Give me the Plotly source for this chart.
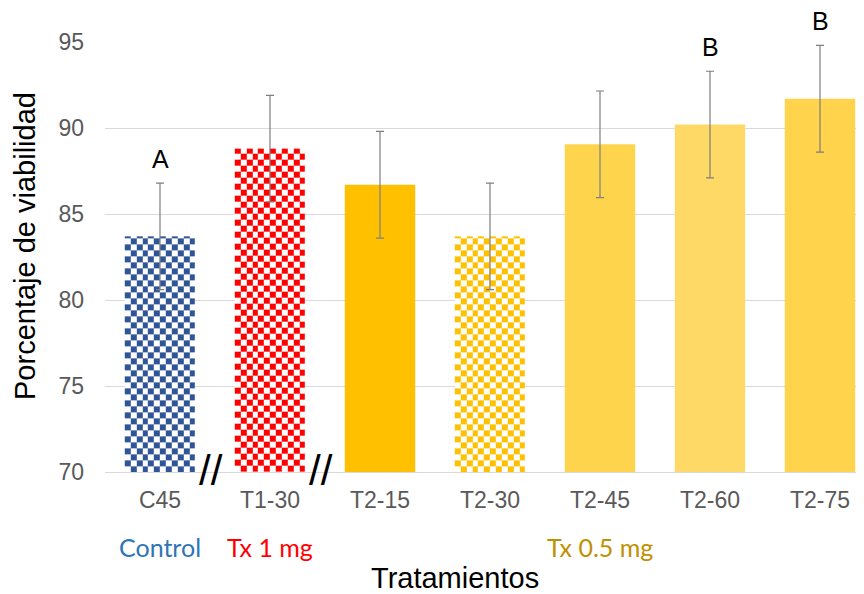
import numpy as np
import plotly.graph_objects as go

# ---- data ----
categories = ["C45", "T1-30", "T2-15", "T2-30", "T2-45", "T2-60", "T2-75"]
viability = [83.7, 88.8, 86.7, 83.7, 89.05, 90.2, 91.7]
errors = [3.1, 3.1, 3.1, 3.1, 3.1, 3.1, 3.1]
letters = ["A", "", "", "", "", "B", "B"]
checkered = [True, True, False, True, False, False, False]
bar_colors = ["#2F5597", "#FF0000", "#FFC000", "#FFC000", "#FFD44D", "#FFD966", "#FFD34B"]
group_labels = ["Control", "Tx 1 mg", "Tx 0.5 mg"]
group_pos = [0, 1, 4]
group_colors = ["#2E75B6", "#FF0000", "#BF9000"]
break_pos = [0.5, 1.5]

Y0, Y1 = 70, 95
X0, X1 = -0.5, 6.4
BAR_W = 0.64

# page body has an 8px margin: figure sits at (8, 8) in the window
OFF = 8
FIG_W, FIG_H = 864 - OFF, 594 - OFF
# plot area in window pixels
PL, PT, PR, PB = 105, 42, 864, 472
W_PLOT = PR - PL
H_PLOT = PB - PT
px_x = W_PLOT / (X1 - X0)
px_y = H_PLOT / (Y1 - Y0)
CELL = 6.0

def paper_x(wx):
    return (wx - PL) / W_PLOT

def paper_y(wy):
    return (PB - wy) / H_PLOT

xs = list(range(len(categories)))
fig = go.Figure()

# checkerboard fills (heatmaps) for patterned bars
for i, (v, chk, col) in enumerate(zip(viability, checkered, bar_colors)):
    if not chk:
        continue
    left, right = i - BAR_W / 2, i + BAR_W / 2
    nx = max(1, int(round(BAR_W * px_x / CELL)))
    xe = np.linspace(left, right, nx + 1)
    dy = CELL / px_y
    ye = list(np.arange(Y0, v, dy))
    ye.append(v)
    ny = len(ye) - 1
    z = [[(a + b) % 2 for a in range(nx)] for b in range(ny)]
    fig.add_trace(go.Heatmap(
        x=xe, y=ye, z=z, zmin=0, zmax=1,
        colorscale=[[0, "white"], [1, col]], showscale=False,
        hoverinfo="skip", xgap=0, ygap=0,
    ))

fig.add_trace(go.Bar(
    x=xs, y=viability, width=BAR_W,
    marker=dict(color=["rgba(0,0,0,0)" if c else col for c, col in zip(checkered, bar_colors)],
                line=dict(width=0)),
    error_y=dict(type="data", array=errors, visible=True, color="#7F7F7F", thickness=1.2, width=4),
))

annotations = []
for i, (v, e, t) in enumerate(zip(viability, errors, letters)):
    if t:
        annotations.append(dict(x=i, y=v + e, xref="x", yref="y", text=t, showarrow=False,
                                yanchor="middle", yshift=24,
                                font=dict(family="Arial", size=25, color="black")))
for p in break_pos:
    annotations.append(dict(x=p, y=Y0, xref="x", yref="y", text="//", showarrow=False,
                            yanchor="middle", yshift=2, xshift=-4,
                            font=dict(family="Arial", size=42, color="black")))
for lab, p, c in zip(group_labels, group_pos, group_colors):
    annotations.append(dict(x=p, y=paper_y(547), xref="x", yref="paper", text=lab, showarrow=False,
                            yanchor="middle", font=dict(family="Lato", size=25, color=c)))
annotations.append(dict(x=paper_x(455), y=paper_y(578), xref="paper", yref="paper",
                        text="Tratamientos", showarrow=False, yanchor="middle",
                        font=dict(family="Arial", size=29, color="black")))
annotations.append(dict(x=paper_x(25), y=paper_y(246), xref="paper", yref="paper",
                        text="Porcentaje de viabilidad", showarrow=False, textangle=-90,
                        xanchor="center", yanchor="middle",
                        font=dict(family="Arial", size=29, color="black")))

fig.update_layout(
    width=FIG_W, height=FIG_H,
    margin=dict(l=PL - OFF, r=864 - PR, t=PT - OFF, b=594 - PB),
    plot_bgcolor="white", paper_bgcolor="white",
    showlegend=False,
    annotations=annotations,
    xaxis=dict(range=[X0, X1], tickmode="array", tickvals=xs, ticktext=categories,
               showgrid=False, zeroline=False, showline=True, linecolor="#D9D9D9", linewidth=1,
               ticks="", ticklabelstandoff=7,
               tickfont=dict(family="Arial", size=23, color="#595959")),
    yaxis=dict(range=[Y0, Y1], tickmode="array", tickvals=[70, 75, 80, 85, 90, 95],
               showgrid=True, gridcolor="#D9D9D9", gridwidth=1, zeroline=False, showline=False,
               ticks="", ticklabelstandoff=20,
               tickfont=dict(family="Arial", size=23, color="#595959")),
)

fig.write_html("out.html")
